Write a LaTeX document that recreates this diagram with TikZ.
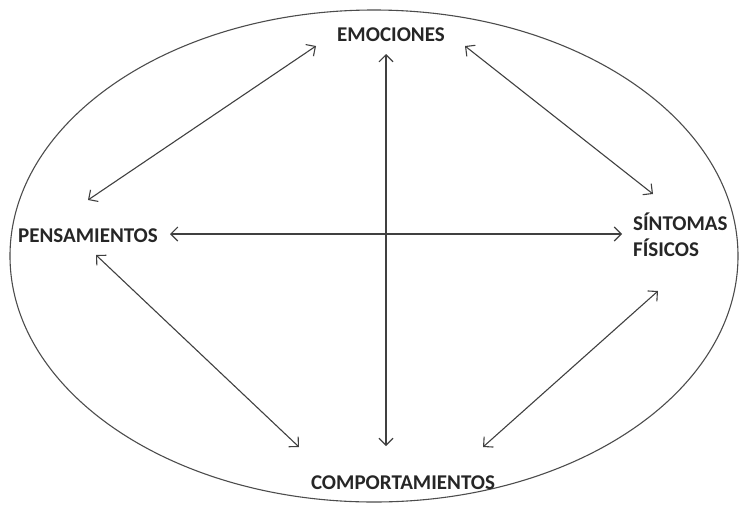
\documentclass[tikz,border=0pt]{standalone}
\usepackage{fontspec}
\setmainfont{Carlito}
\usetikzlibrary{arrows.meta}
\begin{document}
\begin{tikzpicture}[x=1pt,y=-1pt,
  lbl/.style={font=\bfseries\fontsize{21}{26}\selectfont, text=black!85, inner sep=0pt},
  link/.style={draw=black!75, line width=1.1pt, {Straight Barb[length=7pt,width=14pt]}-{Straight Barb[length=7pt,width=14pt]}}]
\useasboundingbox (0,0) rectangle (739,504);
\draw[draw=black!70, line width=1.1pt] (374,256) ellipse [x radius=364, y radius=246];
\node[lbl] (emo) at (391,35) {EMOCIONES};
\node[lbl] (pen) at (88,236) {PENSAMIENTOS};
\node[lbl, align=left, anchor=west] (sin) at (633,235) {SÍNTOMAS\\FÍSICOS};
\node[lbl] (com) at (403,483) {COMPORTAMIENTOS};
\coordinate (v1) at (386,54);
\coordinate (v2) at (386,446);
\coordinate (h1) at (170,234);
\coordinate (h2) at (622,234);
\coordinate (ep1) at (316,46);
\coordinate (ep2) at (88,200);
\coordinate (es1) at (465,46);
\coordinate (es2) at (653,194);
\coordinate (pc1) at (96,255);
\coordinate (pc2) at (299,447);
\coordinate (sc1) at (658,291);
\coordinate (sc2) at (483,447);
\draw[link] (v1) -- (v2);
\draw[link] (h1) -- (h2);
\draw[link] (ep1) -- (ep2);
\draw[link] (es1) -- (es2);
\draw[link] (pc1) -- (pc2);
\draw[link] (sc1) -- (sc2);
\end{tikzpicture}
\end{document}
